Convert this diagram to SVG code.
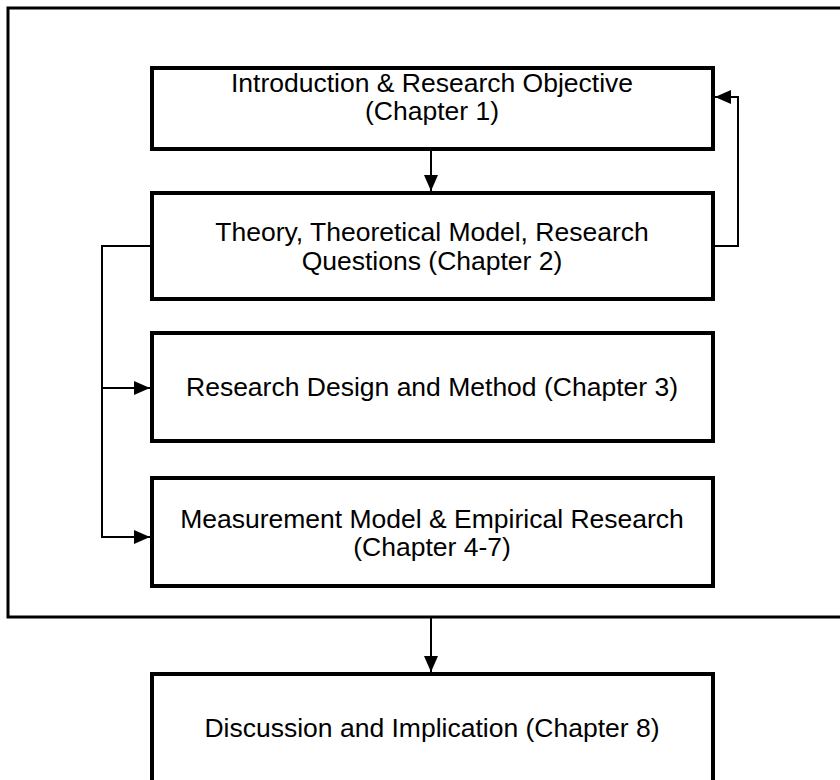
<svg xmlns="http://www.w3.org/2000/svg" width="840" height="780" viewBox="0 0 840 780">
<style>
.box{fill:#fff;stroke:#000;stroke-width:4}
.frame{fill:none;stroke:#000;stroke-width:3}
.conn{fill:none;stroke:#000;stroke-width:2}
text{font-family:"Liberation Sans",Arial,sans-serif;font-size:26.5px;fill:#000;text-anchor:middle}
</style>
<defs>
<marker id="ah" markerUnits="userSpaceOnUse" markerWidth="16" markerHeight="14" refX="16" refY="7" orient="auto">
<path d="M0,0 L16,7 L0,14 Z" fill="#000"/>
</marker>
</defs>
<rect class="frame" x="8" y="8" width="840" height="609"/>
<g id="n1"><rect class="box" x="152" y="68" width="561" height="81"/>
<text x="432" y="92">Introduction &amp; Research Objective</text>
<text x="432" y="120">(Chapter 1)</text></g>
<g id="n2"><rect class="box" x="152" y="193" width="561" height="106"/>
<text x="432" y="241">Theory, Theoretical Model, Research</text>
<text x="432" y="270">Questions (Chapter 2)</text></g>
<g id="n3"><rect class="box" x="152" y="333" width="561" height="108"/>
<text x="432" y="396">Research Design and Method (Chapter 3)</text></g>
<g id="n4"><rect class="box" x="152" y="478" width="561" height="108"/>
<text x="432" y="528">Measurement Model &amp; Empirical Research</text>
<text x="432" y="556">(Chapter 4-7)</text></g>
<g id="n5"><rect class="box" x="152" y="674" width="561" height="130"/>
<text x="432" y="737">Discussion and Implication (Chapter 8)</text></g>
<g id="connectors">
<path class="conn" d="M431,151 L431,191" marker-end="url(#ah)"/>
<path class="conn" d="M715,246 L738,246 L738,97 L715,97" marker-end="url(#ah)"/>
<path class="conn" d="M150,246 L102,246 L102,537 L150,537" marker-end="url(#ah)"/>
<path class="conn" d="M102,388 L150,388" marker-end="url(#ah)"/>
<path class="conn" d="M431,618 L431,672" marker-end="url(#ah)"/>
</g>
</svg>
